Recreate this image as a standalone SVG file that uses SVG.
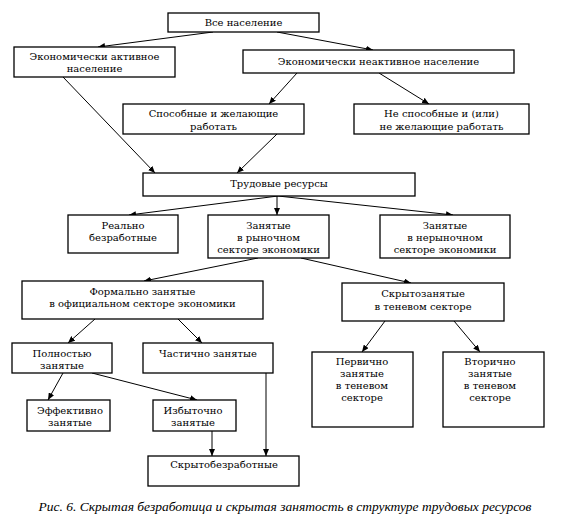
<svg xmlns="http://www.w3.org/2000/svg" width="563" height="520" viewBox="0 0 563 520">
<defs>
<style>
.box{fill:#fff;stroke:#000;stroke-width:1.3}
.t{font-family:"DejaVu Serif","Liberation Serif",serif;font-size:10px;fill:#000;text-anchor:middle}
.cap{font-family:"Liberation Serif","Times New Roman",serif;font-size:13.5px;font-style:italic;fill:#000;text-anchor:middle}
.c{stroke:#000;stroke-width:1;fill:none;marker-end:url(#ah)}
</style>
<marker id="ah" markerUnits="userSpaceOnUse" markerWidth="8" markerHeight="6" refX="7" refY="3" orient="auto">
<path d="M0,0 L7,3 L0,6 z" fill="#000"/>
</marker>
</defs>
<rect width="563" height="520" fill="#fff"/>
<g id="connectors">
<line class="c" x1="213" y1="32" x2="98" y2="47"/>
<line class="c" x1="277" y1="32" x2="373" y2="50"/>
<line class="c" x1="63" y1="77" x2="155" y2="173"/>
<line class="c" x1="297" y1="73" x2="269" y2="104"/>
<line class="c" x1="379" y1="73" x2="429" y2="104"/>
<line class="c" x1="277" y1="134" x2="237" y2="173"/>
<line class="c" x1="278" y1="196" x2="129" y2="215"/>
<line class="c" x1="277" y1="196" x2="277" y2="215"/>
<line class="c" x1="278" y1="196" x2="453" y2="215"/>
<line class="c" x1="258" y1="258" x2="144" y2="281"/>
<line class="c" x1="301" y1="258" x2="411" y2="283"/>
<line class="c" x1="95" y1="319" x2="68" y2="343"/>
<line class="c" x1="178" y1="319" x2="202" y2="343"/>
<line class="c" x1="385" y1="321" x2="362" y2="352"/>
<line class="c" x1="454" y1="321" x2="480" y2="352"/>
<line class="c" x1="63" y1="373" x2="48" y2="400"/>
<line class="c" x1="92" y1="373" x2="197" y2="400"/>
<line class="c" x1="212" y1="431" x2="212" y2="456"/>
<line class="c" x1="266" y1="373" x2="266" y2="456"/>
</g>
<g id="all">
<rect class="box" x="168" y="13" width="151" height="19"/>
<text class="t" x="243.5" y="26">Все население</text>
</g>
<g id="active">
<rect class="box" x="14" y="47" width="161" height="30"/>
<text class="t" x="94.5" y="60">Экономически активное</text>
<text class="t" x="94.5" y="72">население</text>
</g>
<g id="inactive">
<rect class="box" x="243" y="50" width="271" height="23"/>
<text class="t" x="378.5" y="65">Экономически неактивное население</text>
</g>
<g id="able">
<rect class="box" x="123" y="104" width="181" height="30"/>
<text class="t" x="213.5" y="117">Способные и желающие</text>
<text class="t" x="213.5" y="130">работать</text>
</g>
<g id="unable">
<rect class="box" x="354" y="104" width="175" height="30"/>
<text class="t" x="441.5" y="117">Не способные и (или)</text>
<text class="t" x="441.5" y="130">не желающие работать</text>
</g>
<g id="labor">
<rect class="box" x="143" y="173" width="272" height="23"/>
<text class="t" x="279" y="187">Трудовые ресурсы</text>
</g>
<g id="unemployed">
<rect class="box" x="68" y="215" width="110" height="38"/>
<text class="t" x="123" y="229">Реально</text>
<text class="t" x="123" y="241">безработные</text>
</g>
<g id="market">
<rect class="box" x="208" y="215" width="121" height="43"/>
<text class="t" x="268.5" y="229">Занятые</text>
<text class="t" x="268.5" y="241">в рыночном</text>
<text class="t" x="268.5" y="253">секторе экономики</text>
</g>
<g id="nonmarket">
<rect class="box" x="380" y="215" width="130" height="43"/>
<text class="t" x="445" y="229">Занятые</text>
<text class="t" x="445" y="241">в нерыночном</text>
<text class="t" x="445" y="253">секторе экономики</text>
</g>
<g id="formal">
<rect class="box" x="22" y="281" width="241" height="38"/>
<text class="t" x="142.5" y="295">Формально занятые</text>
<text class="t" x="142.5" y="307">в официальном секторе экономики</text>
</g>
<g id="hidden">
<rect class="box" x="342" y="283" width="162" height="38"/>
<text class="t" x="423" y="297">Скрытозанятые</text>
<text class="t" x="423" y="310">в теневом секторе</text>
</g>
<g id="full">
<rect class="box" x="12" y="343" width="100" height="30"/>
<text class="t" x="62" y="357">Полностью</text>
<text class="t" x="62" y="369">занятые</text>
</g>
<g id="partial">
<rect class="box" x="143" y="343" width="130" height="30"/>
<text class="t" x="208" y="357">Частично занятые</text>
</g>
<g id="primary">
<rect class="box" x="312" y="352" width="101" height="75"/>
<text class="t" x="362" y="365">Первично</text>
<text class="t" x="362" y="377">занятые</text>
<text class="t" x="362" y="389">в теневом</text>
<text class="t" x="362" y="401">секторе</text>
</g>
<g id="secondary">
<rect class="box" x="443" y="352" width="101" height="75"/>
<text class="t" x="490" y="365">Вторично</text>
<text class="t" x="490" y="377">занятые</text>
<text class="t" x="490" y="389">в теневом</text>
<text class="t" x="490" y="401">секторе</text>
</g>
<g id="effective">
<rect class="box" x="27" y="400" width="83" height="31"/>
<text class="t" x="70" y="414">Эффективно</text>
<text class="t" x="70" y="426">занятые</text>
</g>
<g id="excess">
<rect class="box" x="153" y="400" width="83" height="31"/>
<text class="t" x="193" y="414">Избыточно</text>
<text class="t" x="193" y="426">занятые</text>
</g>
<g id="hiddenunemp">
<rect class="box" x="148" y="456" width="151" height="30"/>
<text class="t" x="224" y="468">Скрытобезработные</text>
</g>
<text class="cap" x="285" y="511">Рис. 6. Скрытая безработица и скрытая занятость в структуре трудовых ресурсов</text>
</svg>
